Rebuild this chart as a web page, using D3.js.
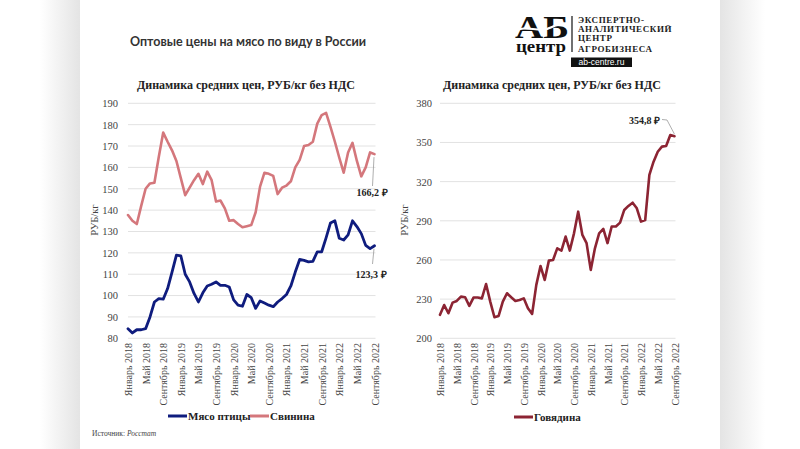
<!DOCTYPE html>
<html><head><meta charset="utf-8">
<script src="https://cdnjs.cloudflare.com/ajax/libs/d3/7.8.5/d3.min.js"></script>
<style>
html,body{margin:0;padding:0;background:#fff;}
svg{display:block;}
</style></head>
<body>
<svg id="c" width="800" height="449"></svg>
<script>
// ---------- data ----------
const monthNames = ["Январь","Февраль","Март","Апрель","Май","Июнь","Июль","Август","Сентябрь","Октябрь","Ноябрь","Декабрь"];
const years = [2018, 2019, 2020, 2021, 2022];
const categories = [];
years.forEach(y => monthNames.forEach((m, k) => { if (!(y === 2022 && k > 8)) categories.push(m + " " + y); }));
const tickLabels = ["Январь 2018","Май 2018","Сентябрь 2018","Январь 2019","Май 2019","Сентябрь 2019","Январь 2020","Май 2020","Сентябрь 2020","Январь 2021","Май 2021","Сентябрь 2021","Январь 2022","Май 2022","Сентябрь 2022"];

const poultry = [84.5,82.5,84,84,84.5,90,97,98.6,98.3,103.3,111,118.9,118.6,110,106.4,101,97,101.3,104.5,105.3,106.4,104.8,104.8,104,98,95.5,95,100.5,99,94,97.5,96.5,95.5,94.8,97,98.6,100.5,104.5,111,116.9,116.5,115.8,116,120.5,120.5,127,134,135,126.8,126,128.4,135,132.3,129,123.5,122,123.3];
const pork = [137.7,135,133.5,142,150,152.5,152.8,165,176.3,172,168,163,155,147,150.5,154,157,152.2,158,154,144,144.5,140.8,135,135.3,133.5,132,132.5,133,139,151,157.5,157,156,147.5,150.5,151.5,153.5,160,163.5,170,170.5,172,180.5,184.5,185.5,179,172,164.5,157.5,167,171.5,163,155.8,160,167,166.2];
const beef = [218,225.5,219.2,227.3,228.6,231.9,231.4,224.8,231.2,231.2,230.6,241.6,228.1,216.1,217.1,228.1,234.5,231.4,228.6,229.4,230.6,223,218.7,240.9,255.4,244.7,259.5,260,268.9,267.2,277.9,267.2,280.4,297,279.2,272.9,252.4,268.9,280.4,283.8,272.9,285.6,285.6,288.6,298.3,301.4,303.9,299.6,289.4,290.6,325.1,335.3,342.9,346.8,347.3,355.7,354.8];

const leftTicks = [80,90,100,110,120,130,140,150,160,170,180,190];
const rightTicks = [200,230,260,290,320,350,380];

const seriesNames = ["Мясо птицы","Свинина","Говядина"];
const labels = {poultry:"123,3 ₽", pork:"166,2 ₽", beef:"354,8 ₽"};

// ---------- drawing ----------
const svg = d3.select("#c");
const defs = svg.append("defs");
const gl = defs.append("linearGradient").attr("id","gl");
gl.append("stop").attr("offset","0%").attr("stop-color","#fff");
gl.append("stop").attr("offset","100%").attr("stop-color","#e4e4e4");
const gr = defs.append("linearGradient").attr("id","gr");
gr.append("stop").attr("offset","0%").attr("stop-color","#e4e4e4");
gr.append("stop").attr("offset","100%").attr("stop-color","#fff");
svg.append("rect").attr("x",40).attr("y",0).attr("width",40).attr("height",449).attr("fill","url(#gl)");
svg.append("rect").attr("x",720).attr("y",0).attr("width",45).attr("height",449).attr("fill","url(#gr)");

const serif = "'Liberation Serif','Times New Roman',serif";

// Main title
svg.append("text").attr("x",248).attr("y",46).attr("text-anchor","middle")
  .attr("font-family","Lato, 'Open Sans', sans-serif").attr("font-weight",700)
  .attr("font-size",12.5).attr("fill","#333").text("Оптовые цены на мясо по виду в России");

// Logo
const logo = svg.append("g");
logo.append("text").attr("x",515).attr("y",38).attr("font-family",serif).attr("font-weight",700)
  .attr("font-size",31).attr("fill","#111").attr("textLength",54).attr("lengthAdjust","spacingAndGlyphs").text("АБ");
logo.append("path").attr("d","M514,31 C528,24 538,34 552,27 C560,23 566,25 570,24")
  .attr("fill","none").attr("stroke","#fff").attr("stroke-width",2);
logo.append("text").attr("x",516).attr("y",51.5).attr("font-family",serif).attr("font-weight",700)
  .attr("font-size",17).attr("fill","#111").attr("textLength",50).attr("lengthAdjust","spacingAndGlyphs").text("центр");
logo.append("line").attr("x1",572).attr("x2",572).attr("y1",16).attr("y2",52).attr("stroke","#111").attr("stroke-width",1.2);
[["ЭКСПЕРТНО-",23],["АНАЛИТИЧЕСКИЙ",31.8],["ЦЕНТР",40.5],["АГРОБИЗНЕСА",51.5]].forEach(([t,y])=>{
  logo.append("text").attr("x",578).attr("y",y).attr("font-family",serif).attr("font-weight",700)
    .attr("font-size",9).attr("letter-spacing",0.6).attr("fill","#222").text(t);
});
logo.append("rect").attr("x",571).attr("y",57.5).attr("width",61).attr("height",9.5).attr("fill","#111");
logo.append("text").attr("x",601.5).attr("y",65).attr("text-anchor","middle").attr("font-family","'Liberation Sans',Arial,sans-serif")
  .attr("font-size",8.5).attr("fill","#fff").text("ab-centre.ru");

function panel(opts){
  const g = svg.append("g");
  const x = d3.scalePoint().domain(categories).range(opts.xr);
  const y = d3.scaleLinear().domain(opts.yd).range([338.3,103.3]);
  // subtitle
  g.append("text").attr("x",opts.titleX).attr("y",89).attr("font-family",serif).attr("font-weight",700)
    .attr("font-size",12).attr("fill","#222").text("Динамика средних цен, РУБ/кг без НДС");
  // grid
  g.selectAll("line.grid").data(opts.ticks).join("line").attr("class","grid")
    .attr("x1",opts.xr[0]).attr("x2",opts.xr[1]+1).attr("y1",d=>y(d)).attr("y2",d=>y(d))
    .attr("stroke","#e2e2e2").attr("stroke-width",1);
  // y axis
  const ya = d3.axisLeft(y).tickValues(opts.ticks).tickSize(0).tickPadding(0);
  const yg = g.append("g").attr("transform",`translate(${opts.yLabX},0)`).call(ya);
  yg.select(".domain").remove();
  yg.selectAll("text").attr("font-family",serif).attr("font-size",10.5).attr("fill","#444");
  // y title
  g.append("text").attr("transform",`translate(${opts.yTitleX},220) rotate(-90)`).attr("text-anchor","middle")
    .attr("font-family",serif).attr("font-size",10.5).attr("fill","#444").text("РУБ/кг");
  // x axis
  const xa = d3.axisBottom(x).tickValues(tickLabels).tickSize(0).tickPadding(0);
  const xg = g.append("g").attr("transform","translate(0,343)").call(xa);
  xg.select(".domain").remove();
  xg.selectAll("text").attr("font-family",serif).attr("font-size",10).attr("fill","#444")
    .attr("text-anchor","end").attr("dy","0.35em").attr("transform","rotate(-90)").attr("x",0).attr("y",0);
  // lines
  const line = d3.line().x((d,i)=>x(categories[i])).y(d=>y(d)).curve(d3.curveLinear);
  opts.series.forEach(s=>{
    g.append("path").attr("d",line(s.values)).attr("fill","none").attr("stroke",s.color)
      .attr("stroke-width",s.w).attr("stroke-linejoin","round").attr("stroke-linecap","round");
  });
  return {g,x,y};
}

const L = panel({xr:[128,374.5], yd:[80,190], ticks:leftTicks, titleX:137, yLabX:118, yTitleX:98,
  series:[{values:pork,color:"#d4777c",w:2.6},{values:poultry,color:"#0f1c7e",w:2.8}]});
const R = panel({xr:[440,674.5], yd:[200,380], ticks:rightTicks, titleX:443, yLabX:432, yTitleX:408,
  series:[{values:beef,color:"#8c2433",w:2.6}]});

// annotations
const last = categories[categories.length-1];
function leader(p, pts){ p.append("polyline").attr("points",pts.map(q=>q.join(",")).join(" ")).attr("fill","none").attr("stroke","#999").attr("stroke-width",0.8); }
leader(L.g, [[L.x(last)-0.5, L.y(pork[pork.length-1])+3],[372.5,186]]);
L.g.append("text").attr("x",372).attr("y",196).attr("text-anchor","middle").attr("font-family",serif).attr("font-weight",700)
  .attr("font-size",10).attr("fill","#222").text(labels.pork);
leader(L.g, [[L.x(last)-0.5, L.y(poultry[poultry.length-1])+3],[372.5,264]]);
L.g.append("text").attr("x",371).attr("y",278).attr("text-anchor","middle").attr("font-family",serif).attr("font-weight",700)
  .attr("font-size",10).attr("fill","#222").text(labels.poultry);
leader(R.g, [[R.x(last), R.y(beef[beef.length-1])-2],[667,120],[662,119.5]]);
R.g.append("text").attr("x",660).attr("y",124).attr("text-anchor","end").attr("font-family",serif).attr("font-weight",700)
  .attr("font-size",10).attr("fill","#222").text(labels.beef);

// legends
function legendItem(x, y, color, name){
  svg.append("line").attr("x1",x).attr("x2",x+19).attr("y1",y).attr("y2",y).attr("stroke",color).attr("stroke-width",3);
  svg.append("text").attr("x",x+20).attr("y",y+4).attr("font-family",serif).attr("font-weight",700)
    .attr("font-size",11).attr("fill","#222").text(name);
}
legendItem(168, 416, "#0f1c7e", seriesNames[0]);
legendItem(250, 416, "#d4777c", seriesNames[1]);
legendItem(514, 417, "#8c2433", seriesNames[2]);

// source
const src = svg.append("text").attr("x",92).attr("y",436).attr("font-family",serif).attr("font-size",7.5).attr("fill","#444");
src.append("tspan").text("Источник: ");
src.append("tspan").attr("font-style","italic").text("Росстат");
</script>
</body></html>
